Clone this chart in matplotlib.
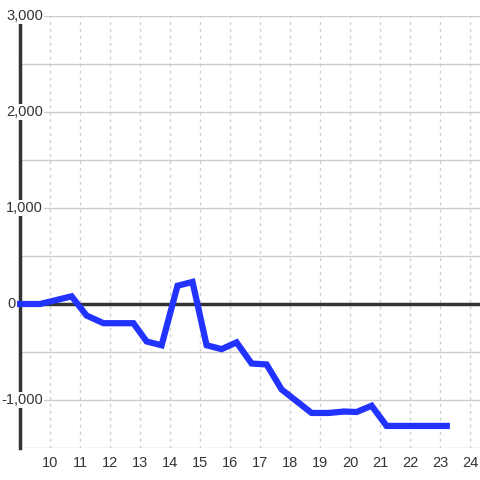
import matplotlib
matplotlib.use('Agg')
import matplotlib.pyplot as plt

# data
hora = [8.9, 9.67, 10.72, 11.22, 11.78, 12.78, 13.22, 13.72, 14.25, 14.75,
        15.22, 15.72, 16.22, 16.72, 17.22, 17.72, 18.72, 19.3, 19.8, 20.22,
        20.72, 21.22, 23.33]
valor = [0, 0, 80, -120, -200, -200, -390, -430, 190, 230,
         -430, -470, -400, -620, -630, -890, -1135, -1135, -1120, -1125,
         -1060, -1270, -1270]

x_ticks = list(range(10, 25))
y_grid = [-1500, -1000, -500, 0, 500, 1000, 1500, 2000, 2500, 3000]
y_ticks = [3000, 2000, 1000, 0, -1000]
y_labels = ['3,000', '2,000', '1,000', '0', '-1,000']

plt.rcParams['font.family'] = ['Liberation Sans', 'DejaVu Sans']

fig = plt.figure(figsize=(4.8, 4.8), dpi=100)
ax = fig.add_axes([20 / 480, 32 / 480, 460 / 480, 432 / 480])
ax.set_xlim(9, 9 + 460 / 30)
ax.set_ylim(-1500, 3000)

# rejilla
for y in y_grid:
    ax.axhline(y, color='#cccccc', lw=1, zorder=1)
for x in x_ticks:
    ax.axvline(x, color='#cccccc', lw=1, ls=(0, (2, 3)), zorder=1)
ax.axhline(0, color='#333333', lw=2.5, zorder=2)

for s in ['top', 'right', 'bottom']:
    ax.spines[s].set_visible(False)
ax.spines['left'].set_color('#333333')
ax.spines['left'].set_linewidth(2.5)
ax.spines['left'].set_zorder(2)

ax.plot(hora, valor, color='#2233ff', lw=4.5, solid_joinstyle='miter',
        solid_capstyle='butt', zorder=6, clip_on=False)

ax.set_yticks([])
ax.set_xticks(x_ticks)
ax.set_xticklabels([str(t) for t in x_ticks])
ax.tick_params(axis='x', length=0, pad=6, labelsize=10.5, labelcolor='#333333')

for y, lab in zip(y_ticks, y_labels):
    # el "0" queda a la izquierda del eje
    xr = 9 - 4 / 30 if lab == '0' else 9 + 23 / 30
    ax.text(xr, y, lab, ha='right', va='center', fontsize=10.5,
            color='#333333', zorder=5, clip_on=False,
            bbox=dict(facecolor='white', edgecolor='none', pad=0.5))

fig.savefig('out.png', dpi=100)
